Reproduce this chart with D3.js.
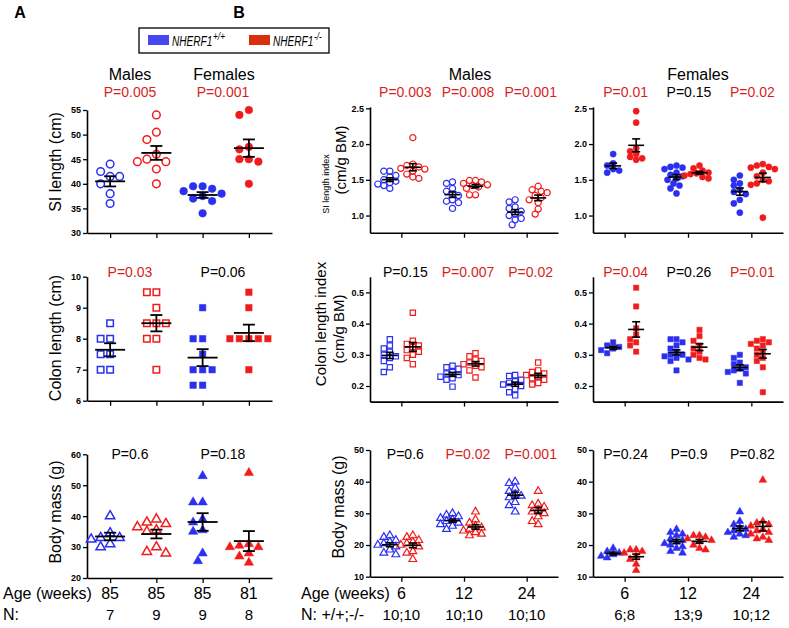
<!DOCTYPE html>
<html><head><meta charset="utf-8">
<script src="https://cdn.jsdelivr.net/npm/d3@7"></script>
<style>body{margin:0;background:#fff} text{font-family:"Liberation Sans",Arial,Helvetica,sans-serif}</style>
</head><body><svg id="c" width="789" height="628"></svg>
<script>
// ---------------- DATA ----------------
const colorWT = "#2a2ff0", colorKO = "#f01c1c";
const pRed = "#d81e1e";
// Panel A (85-week mice): groups = Males WT, Males KO, Females WT, Females KO
const aGroups = ["MWT", "MKO", "FWT", "FKO"];
const aAge = ["85", "85", "85", "81"];
const aN = ["7", "9", "9", "8"];
const aSI = [
  [44, 42.5, 41.5, 41.5, 40, 38, 36],
  [54, 50.5, 49, 46, 45, 44.5, 44.5, 43, 40],
  [39.5, 39.5, 39, 38.5, 38, 37.5, 37, 36.5, 34],
  [55, 54, 47.5, 47, 45, 45, 44.5, 40]
];
const aColon = [
  [8.5, 8, 8, 7.5, 7.5, 7, 7],
  [9.5, 9.5, 9, 8.5, 8.5, 8.5, 8, 8, 7],
  [9, 8, 8, 7.5, 7, 7, 7, 6.5, 6.5],
  [9.5, 9, 8, 8, 8, 8, 8, 7]
];
const aBody = [
  [40, 34.5, 33, 33, 32.5, 31, 30],
  [39, 38, 37.5, 36.5, 35.5, 35, 30, 28.5, 28],
  [53, 44.5, 44.5, 39, 38, 35.5, 35, 28, 25.5],
  [54, 31, 30.5, 30, 30, 28, 27, 25]
];
const aP_SI = ["P=0.005", "P=0.001"];
const aP_Colon = ["P=0.03", "P=0.06"];
const aP_Body = ["P=0.6", "P=0.18"];

// Panel B: ages in weeks
const bAges = ["6", "12", "24"];
const bN_M = ["10;10", "10;10", "10;10"];
const bN_F = ["6;8", "13;9", "10;12"];
const bSI_M_WT = [[1.62,1.62,1.56,1.54,1.5,1.48,1.46,1.44,1.42,1.38],[1.47,1.45,1.38,1.34,1.30,1.28,1.22,1.20,1.18,1.10],[1.22,1.19,1.12,1.10,1.06,1.02,1.00,0.96,0.94,0.87]];
const bSI_M_KO = [[2.09,1.72,1.70,1.68,1.66,1.65,1.62,1.58,1.54,1.52],[1.49,1.49,1.47,1.45,1.43,1.42,1.40,1.38,1.29,1.29],[1.41,1.36,1.34,1.32,1.28,1.25,1.22,1.18,1.09,1.02]];
const bSI_F_WT = [[1.86,1.73,1.70,1.65,1.63,1.60],[1.70,1.68,1.67,1.65,1.60,1.57,1.55,1.52,1.50,1.45,1.42,1.38,1.31],[1.56,1.50,1.45,1.42,1.36,1.33,1.30,1.22,1.17,1.04]];
const bSI_F_KO = [[2.46,2.30,1.94,1.90,1.86,1.82,1.80,1.78],[1.70,1.66,1.63,1.60,1.59,1.58,1.56,1.54,1.52],[1.72,1.70,1.68,1.67,1.65,1.60,1.55,1.50,1.48,1.45,1.43,0.97]];
const bCo_M_WT = [[0.35,0.33,0.32,0.31,0.30,0.295,0.29,0.28,0.26,0.245],[0.265,0.26,0.255,0.245,0.24,0.235,0.23,0.225,0.22,0.198],[0.235,0.232,0.22,0.215,0.21,0.205,0.20,0.19,0.18,0.17]];
const bCo_M_KO = [[0.435,0.345,0.335,0.33,0.325,0.315,0.31,0.30,0.29,0.27],[0.305,0.295,0.285,0.28,0.275,0.27,0.265,0.26,0.25,0.227],[0.275,0.25,0.245,0.24,0.235,0.23,0.225,0.22,0.21,0.205]];
const bCo_F_WT = [[0.34,0.33,0.325,0.32,0.315,0.305],[0.35,0.35,0.34,0.33,0.32,0.31,0.30,0.30,0.295,0.29,0.285,0.28,0.25],[0.30,0.29,0.275,0.27,0.26,0.255,0.25,0.245,0.24,0.21]];
const bCo_F_KO = [[0.515,0.455,0.385,0.365,0.35,0.34,0.33,0.31],[0.38,0.36,0.345,0.33,0.32,0.31,0.30,0.29,0.285],[0.35,0.345,0.34,0.335,0.33,0.32,0.31,0.30,0.29,0.28,0.26,0.18]];
const bBM_M_WT = [[23,22.5,21.5,21,20.5,20,19.5,18.5,17.5,17],[30,29.5,29,28.5,28,27.5,27,26.5,26,25],[40,39.5,38,37,36,35.5,35,33.5,32.5,30.5]];
const bBM_M_KO = [[23,22.5,21.5,21,20.5,20,19.5,18,17.5,15.5],[30.5,28,27,26,25.5,25,24.5,24,23.5,23],[37,33,32.5,32,31,30.5,30,29,27.5,26.5]];
const bBM_F_WT = [[19,18,17.5,17,16.5,16],[25,24,23.5,23,22,21.5,21,20.5,20,19.5,19,18,17.5],[30.5,27.5,26.5,25.5,25,24.5,24,23.5,23,22.5]];
const bBM_F_KO = [[18.5,18.5,18,17.5,16.5,15.5,14,12],[23,23,22.5,22,21.5,21,20,19,18.5],[40.5,27.5,27,26.5,26,25,24.5,24,23.5,22.5,22,21.5]];
const bP_SI_M = ["P=0.003", "P=0.008", "P=0.001"];
const bP_SI_F = ["P=0.01", "P=0.15", "P=0.02"];
const bP_Co_M = ["P=0.15", "P=0.007", "P=0.02"];
const bP_Co_F = ["P=0.04", "P=0.26", "P=0.01"];
const bP_BM_M = ["P=0.6", "P=0.02", "P=0.001"];
const bP_BM_F = ["P=0.24", "P=0.9", "P=0.82"];

// ---------------- DRAW ----------------
const svg = d3.select("#c");
const pCol = s => (parseFloat(s.split("=")[1]) < 0.05 ? pRed : "#000");

function swarm(vals, y, d) {
  const pts = vals.map(v => ({v, y: y(v)})).sort((a, b) => a.y - b.y);
  const placed = [];
  for (const p of pts) {
    let off = 0;
    for (let i = 0; i < 60; i++) {
      const o = i === 0 ? 0 : (i % 2 ? -1 : 1) * Math.ceil(i / 2) * d * 0.5;
      if (placed.every(q => (q.x - o) ** 2 + (q.y - p.y) ** 2 >= d * d * 0.9)) { off = o; break; }
    }
    p.x = off; placed.push(p);
  }
  return pts;
}
const mean = a => d3.mean(a);
const sem = a => d3.deviation(a) / Math.sqrt(a.length);

function drawGroup(g, vals, cx, y, opt) {
  const sym = d3.symbol().type(opt.shape).size(opt.size);
  const pts = swarm(vals, y, opt.d);
  g.selectAll(null).data(pts).join("path")
    .attr("d", sym)
    .attr("transform", p => `translate(${cx + p.x},${p.y})`)
    .attr("fill", opt.filled ? opt.color : "none")
    .attr("stroke", opt.color)
    .attr("stroke-width", opt.filled ? 0.5 : opt.sw);
  const m = mean(vals), s = sem(vals);
  const lg = g.append("g").attr("stroke", "#000").attr("stroke-width", opt.lw);
  lg.append("line").attr("x1", cx - opt.mw).attr("x2", cx + opt.mw).attr("y1", y(m)).attr("y2", y(m));
  lg.append("line").attr("x1", cx).attr("x2", cx).attr("y1", y(m - s)).attr("y2", y(m + s));
  [m - s, m + s].forEach(v => lg.append("line").attr("x1", cx - opt.cw).attr("x2", cx + opt.cw).attr("y1", y(v)).attr("y2", y(v)));
}

function yAxis(x, y, ticks, fmt) {
  const g = svg.append("g").attr("transform", `translate(${x},0)`)
    .call(d3.axisLeft(y).tickValues(ticks).tickFormat(fmt).tickSize(4).tickSizeOuter(0));
  g.select(".domain").attr("stroke-width", 1.6);
  g.selectAll(".tick line").attr("stroke-width", 1.3);
  g.selectAll(".tick text").attr("font-size", 9).attr("font-weight", "bold").attr("font-family", "Liberation Sans, Arial, sans-serif").attr("dx", "1");
}
function xAxis(xs, yPos) {
  const g = svg.append("g").attr("transform", `translate(0,${yPos})`)
    .call(d3.axisBottom(xs).tickFormat("").tickSize(5).tickSizeOuter(0));
  g.select(".domain").attr("stroke-width", 1.6);
  g.selectAll(".tick line").attr("stroke-width", 1.3);
}
function txt(x, y, s, opt = {}) {
  return svg.append("text").attr("x", x).attr("y", y).text(s)
    .attr("font-size", opt.size || 16).attr("fill", opt.fill || "#000")
    .attr("text-anchor", opt.anchor || "middle")
    .attr("font-weight", opt.weight || "normal");
}
function vtxt(x, y, s, size) {
  svg.append("text").attr("transform", `translate(${x},${y}) rotate(-90)`).text(s)
    .attr("font-size", size).attr("text-anchor", "middle");
}

// Panel letters & legend
txt(20, 18, "A", {size: 16, weight: "bold"});
txt(239, 18, "B", {size: 16, weight: "bold"});
svg.append("rect").attr("x", 139).attr("y", 28).attr("width", 190).attr("height", 25).attr("fill", "#fff").attr("stroke", "#000").attr("stroke-width", 1.3);
svg.append("rect").attr("x", 148).attr("y", 35).attr("width", 21).attr("height", 10).attr("fill", "#4848f2");
svg.append("rect").attr("x", 249).attr("y", 35).attr("width", 21).attr("height", 10).attr("fill", "#d8300c");
[[172, "+/+"], [273, "-/-"]].forEach(([x, sup]) => {
  const t = svg.append("text").attr("transform", `translate(${x},45.5) scale(0.72,1)`)
    .attr("font-size", 14).attr("font-style", "italic");
  t.append("tspan").text("NHERF1");
  t.append("tspan").attr("dx", 1).attr("dy", -6).attr("font-size", 11.5).text(sup);
});

// ---------- Panel A ----------
const aX = d3.scalePoint().domain(aGroups).range([87, 272]).padding(0.5);
const aRows = [
  {data: aSI, dom: [30, 55], rng: [233, 110], ticks: [30, 35, 40, 45, 50, 55], shape: d3.symbolCircle, size: 46, p: aP_SI, py: 97, label: "SI length (cm)", ly: 162},
  {data: aColon, dom: [6, 10], rng: [400.7, 276.7], ticks: [6, 7, 8, 9, 10], shape: d3.symbolSquare, size: 42, p: aP_Colon, py: 277, label: "Colon length (cm)", ly: 338},
  {data: aBody, dom: [20, 60], rng: [578, 454.3], ticks: [20, 30, 40, 50, 60], shape: d3.symbolTriangle, size: 38, p: aP_Body, py: 459, label: "Body mass (g)", ly: 512}
];
aRows.forEach(r => {
  const y = d3.scaleLinear().domain(r.dom).range(r.rng);
  yAxis(87, y, r.ticks, d3.format("d"));
  xAxis(aX, r.rng[0]);
  const g = svg.append("g");
  r.data.forEach((vals, i) => {
    drawGroup(g, vals, aX(aGroups[i]), y, {shape: r.shape, size: r.size, filled: i >= 2, color: i % 2 ? colorKO : colorWT, d: 9.5, sw: 1.5, lw: 1.8, mw: 15, cw: 6});
  });
  txt(130, r.py, r.p[0], {size: 14, fill: pCol(r.p[0])});
  txt(223, r.py, r.p[1], {size: 14, fill: pCol(r.p[1])});
  vtxt(61, r.ly, r.label, 16);
});
txt(130, 80, "Males", {size: 16});
txt(224, 80, "Females", {size: 16});
txt(3, 599, "Age (weeks)", {anchor: "start"});
txt(3, 620, "N:", {anchor: "start"});
aGroups.forEach((gname, i) => {
  txt(aX(gname), 599, aAge[i]);
  txt(aX(gname), 620, aN[i], {size: 15});
});

// ---------- Panel B ----------
const bPanels = [
  {x0: 370, x1: 558, rows: [[bSI_M_WT, bSI_M_KO, bP_SI_M], [bCo_M_WT, bCo_M_KO, bP_Co_M], [bBM_M_WT, bBM_M_KO, bP_BM_M]], filled: false, title: "Males", tx: 470, pdx: 4, n: bN_M},
  {x0: 593, x1: 783, rows: [[bSI_F_WT, bSI_F_KO, bP_SI_F], [bCo_F_WT, bCo_F_KO, bP_Co_F], [bBM_F_WT, bBM_F_KO, bP_BM_F]], filled: true, title: "Females", tx: 698, pdx: 1, n: bN_F}
];
const bRowsCfg = [
  {dom: [0.76, 2.52], rng: [232.7, 106.9], ticks: [1.0, 1.5, 2.0, 2.5], fmt: d3.format(".1f"), shape: d3.symbolCircle, size: 30, py: 97},
  {dom: [0.15, 0.55], rng: [401.6, 276.8], ticks: [0.2, 0.3, 0.4, 0.5], fmt: d3.format(".1f"), shape: d3.symbolSquare, size: 28, py: 277},
  {dom: [10, 50], rng: [576.7, 450], ticks: [10, 20, 30, 40, 50], fmt: d3.format("d"), shape: d3.symbolTriangle, size: 26, py: 459}
];
bPanels.forEach(P => {
  const xs = d3.scalePoint().domain(bAges).range([P.x0, P.x1]).padding(0.5);
  bRowsCfg.forEach((c, ri) => {
    const y = d3.scaleLinear().domain(c.dom).range(c.rng);
    yAxis(P.x0, y, c.ticks, c.fmt);
    xAxis(xs, c.rng[0]);
    const [wt, ko, pv] = P.rows[ri];
    const g = svg.append("g");
    bAges.forEach((a, i) => {
      const opt = {shape: c.shape, size: c.size, filled: P.filled, d: 6, sw: 1.2, lw: 1.6, mw: 8, cw: 4};
      drawGroup(g, wt[i], xs(a) - 11.5, y, Object.assign({color: colorWT}, opt));
      drawGroup(g, ko[i], xs(a) + 11.5, y, Object.assign({color: colorKO}, opt));
      txt(xs(a) + P.pdx, c.py, pv[i], {size: 14, fill: pCol(pv[i])});
    });
  });
  txt(P.tx, 80, P.title, {size: 16});
  bAges.forEach((a, i) => {
    txt(xs(a), 599, a);
    txt(xs(a), 620, P.n[i], {size: 15});
  });
});
txt(301, 599, "Age (weeks)", {anchor: "start"});
txt(301, 620, "N: +/+;-/-", {anchor: "start"});
// B y-axis labels
vtxt(329, 184, "SI length index", 9);
vtxt(346, 160, "(cm/g BM)", 15);
vtxt(326, 324, "Colon length index", 15);
vtxt(344, 329, "(cm/g BM)", 15);
vtxt(344, 507, "Body mass (g)", 16);
</script></body></html>
